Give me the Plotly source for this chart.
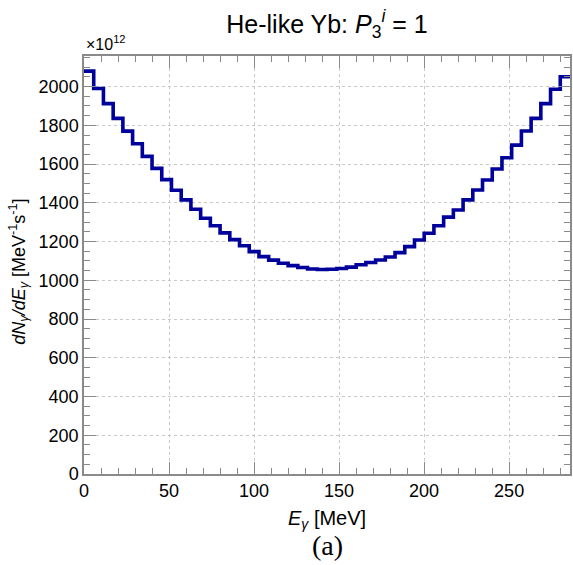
import numpy as np
import plotly.graph_objects as go

# ---- data ----
X_MIN = 0.0
X_MAX = 285.8
N_BINS = 50
# dN/dE per bin (units of 1e12 MeV^-1 s^-1)
rate = [2080, 1990, 1912, 1836, 1770, 1705, 1640, 1578, 1520, 1465,
        1415, 1367, 1320, 1282, 1245, 1210, 1178, 1148, 1122, 1104,
        1088, 1076, 1066, 1058, 1056, 1057, 1061, 1068, 1080, 1092,
        1105, 1120, 1143, 1174, 1208, 1243, 1282, 1326, 1363, 1415,
        1466, 1518, 1575, 1633, 1698, 1771, 1836, 1912, 1986, 2051]
x_ticks = [0, 50, 100, 150, 200, 250]
y_ticks = [0, 200, 400, 600, 800, 1000, 1200, 1400, 1600, 1800, 2000]
Y_MAX = 2158

edges = np.linspace(X_MIN, X_MAX, N_BINS + 1)
ys = list(rate) + [rate[-1]]

fig = go.Figure()
fig.add_trace(go.Scatter(x=edges, y=ys, mode="lines", line_shape="hv",
                         line=dict(color="#00009A", width=3.6),
                         showlegend=False, hoverinfo="skip"))

FONT = "Liberation Sans, Arial, Helvetica, sans-serif"
frame = "#8a8a8a"
axis_common = dict(showline=True, linecolor=frame, linewidth=1.5, mirror="ticks",
                   ticks="inside", tickcolor=frame, tickwidth=1.2,
                   showgrid=True, gridcolor="#c8c8c8", griddash="dot", gridwidth=1,
                   zeroline=False)

fig.update_xaxes(range=[X_MIN, X_MAX], tickvals=x_ticks, ticklen=12,
                 tickfont=dict(family=FONT, size=18, color="black"),
                 minor=dict(dtick=10, tick0=0, ticks="inside", ticklen=6,
                            tickcolor=frame, showgrid=False),
                 **axis_common)
fig.update_yaxes(range=[0, Y_MAX], tickvals=y_ticks, ticklen=12,
                 tickfont=dict(family=FONT, size=18, color="black"),
                 minor=dict(dtick=50, tick0=0, ticks="inside", ticklen=6,
                            tickcolor=frame, showgrid=False),
                 **axis_common)

fig.update_layout(
    width=573, height=565,
    margin=dict(l=84, r=1, t=56, b=91),
    paper_bgcolor="white", plot_bgcolor="white",
    title=dict(text="He-like Yb: <i>P</i><sub>3</sub><sup><i>i</i></sup> = 1",
               x=0.5, xref="paper", xanchor="center",
               y=1 - 24 / 565, yref="container", yanchor="middle",
               font=dict(family=FONT, size=25, color="black")),
    annotations=[
        dict(text="×10<sup>12</sup>", x=0, y=1, xref="paper", yref="paper",
             xanchor="left", yanchor="bottom", yshift=1, showarrow=False,
             font=dict(family=FONT, size=16, color="black")),
        dict(text="<i>E<sub>γ</sub></i> [MeV]", x=0.5, y=-0.11,
             xref="paper", yref="paper", xanchor="center", yanchor="middle",
             showarrow=False, font=dict(family=FONT, size=20, color="black")),
        dict(text="<i>dN<sub>γ</sub>/dE<sub>γ</sub></i> [MeV<sup>-1</sup>s<sup>-1</sup>]",
             x=-0.135, y=0.485, xref="paper", yref="paper", textangle=-90,
             xanchor="center", yanchor="middle", showarrow=False,
             font=dict(family=FONT, size=18, color="black")),
        dict(text="(a)", x=0.5, y=-0.17, xref="paper", yref="paper",
             xanchor="center", yanchor="middle", showarrow=False,
             font=dict(family="Liberation Serif, DejaVu Serif, serif", size=28, color="black")),
    ],
)

fig.write_html("out.html")
